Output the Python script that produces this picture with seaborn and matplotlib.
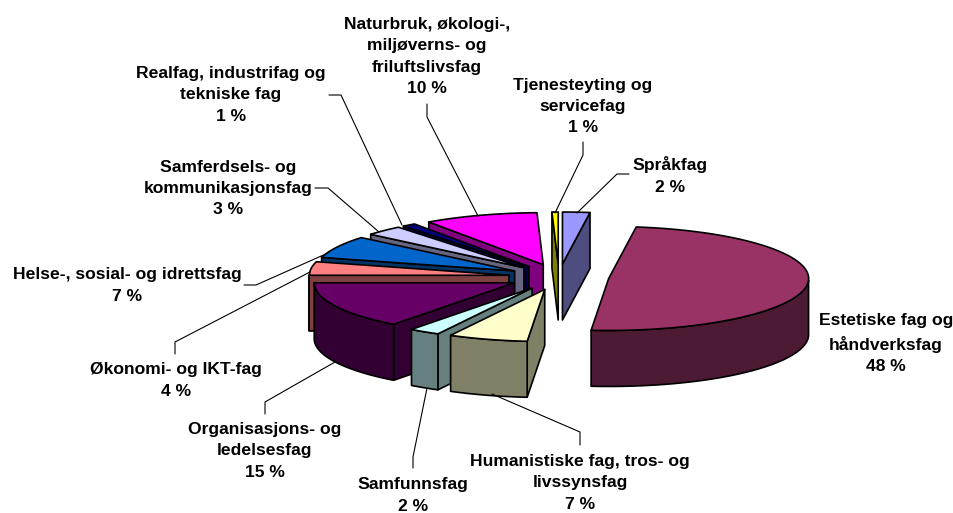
import numpy as np
import matplotlib
matplotlib.use('Agg')
import matplotlib.pyplot as plt
import seaborn as sns

categories = ['Språkfag', 'Estetiske fag og\nhåndverksfag', 'Humanistiske fag, tros- og\nlivssynsfag',
              'Samfunnsfag', 'Organisasjons- og\nledelsesfag', 'Økonomi- og IKT-fag',
              'Helse-, sosial- og idrettsfag', 'Samferdsels- og\nkommunikasjonsfag',
              'Realfag, industrifag og\ntekniske fag', 'Naturbruk, økologi-,\nmiljøverns- og\nfriluftslivsfag',
              'Tjenesteyting og\nservicefag']
percent_labels = [2, 48, 7, 2, 15, 4, 7, 3, 1, 10, 1]
shares = [2.2, 49.2, 6.4, 2.5, 14.7, 4.2, 6.9, 3.1, 1.1, 9.2, 0.5]
colors = ['#9999FF', '#993366', '#FFFFCC', '#CCFFFF', '#660066', '#FF8080',
          '#0066CC', '#CCCCFF', '#000080', '#FF00FF', '#FFFF00']

# Label centres and leader lines, in pixels of the 954x513 picture
label_pos = [(670, 175.5), (886, 343.5), (580, 483), (413, 495.5), (265, 451), (176, 380.5),
             (127, 285.5), (228, 188.5), (231, 95), (427, 56.5), (583, 106.5)]
leaders = [[(629, 174), (617, 174), (577, 213)],
           None,
           [(580, 445), (580, 432), (492, 394)],
           [(413, 468), (413, 457), (427, 388)],
           [(265, 414), (265, 402), (335, 362)],
           [(175, 354), (175, 342), (310, 272)],
           [(244, 285), (256, 285), (328, 253)],
           [(315, 188), (328, 188), (379, 232)],
           [(329, 95), (341, 95), (402, 225)],
           [(427, 104), (427, 117), (478, 216)],
           [(583, 142), (583, 155), (555, 213)]]

CX, CY = 559, 277
RX, RY = 200, 52
EXPLODE = 0.25
DEPTH = 56

sns.set_theme(style='white')
plt.rcParams['font.family'] = ['Liberation Sans', 'DejaVu Sans']

palette = sns.color_palette(colors)

fig = plt.figure(figsize=(9.54, 5.13), dpi=100)
ax = fig.add_axes([0, 0, 1, 1])
ax.set_xlim(0, 954)
ax.set_ylim(513, 0)
ax.axis('off')

edges = np.radians(np.cumsum([0] + shares) / sum(shares) * 360)
mids = (edges[:-1] + edges[1:]) / 2


def draw_wall(wx, wy, color):
    ax.fill(np.r_[wx, wx[::-1]], np.r_[wy, wy[::-1] + DEPTH],
            facecolor=color, edgecolor='black', lw=1.2, joinstyle='round', zorder=2)


# back slices first so the front ones paint over them
for i in np.argsort(-np.cos(mids)):
    apex_x = CX + EXPLODE * RX * np.sin(mids[i])
    apex_y = CY - EXPLODE * RY * np.cos(mids[i])
    t = np.linspace(edges[i], edges[i + 1], 60)
    arc_x = apex_x + RX * np.sin(t)
    arc_y = apex_y - RY * np.cos(t)
    wall = tuple(c / 2 for c in palette[i])

    # only outline parts running leftwards face the viewer
    if arc_x[0] < apex_x:
        draw_wall(np.r_[apex_x, arc_x[0]], np.r_[apex_y, arc_y[0]], wall)
    if arc_x[-1] > apex_x:
        draw_wall(np.r_[arc_x[-1], apex_x], np.r_[arc_y[-1], apex_y], wall)
    front = np.cos(t) < 0
    if front.any():
        draw_wall(arc_x[front], arc_y[front], wall)
    ax.fill(np.r_[apex_x, arc_x], np.r_[apex_y, arc_y], facecolor=palette[i],
            edgecolor='black', lw=1.2, joinstyle='round', zorder=2)

for name, pct, (x, y), line in zip(categories, percent_labels, label_pos, leaders):
    ax.text(x, y, f'{name}\n{pct} %', ha='center', va='center', fontsize=12.6,
            fontweight='bold', color='black', linespacing=1.51, zorder=3)
    if line:
        ax.plot(*zip(*line), color='black', lw=0.8, zorder=3)

fig.savefig('out.png', dpi=100)
